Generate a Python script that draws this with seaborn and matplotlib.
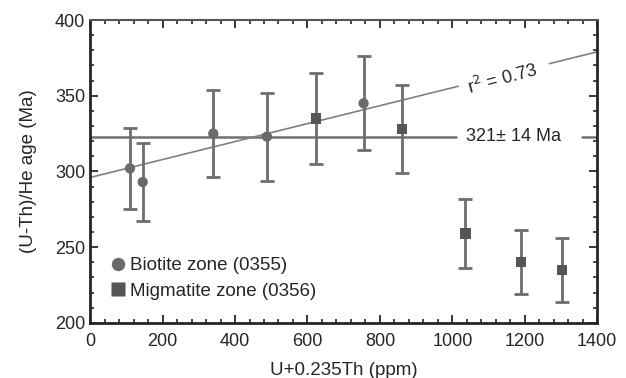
import numpy as np
import pandas as pd
import seaborn as sns
import matplotlib.pyplot as plt
from matplotlib.ticker import MultipleLocator

bio_x = [110, 145, 340, 488, 755]
bio_age = [302, 293, 325, 323, 345]
bio_err = [27, 26, 29, 29, 31]

mig_x = [624, 861, 1036, 1190, 1302]
mig_age = [335, 328, 259, 240, 235]
mig_err = [30, 29, 23, 21, 21]

mean_age = 323
fit_x = [0, 1400]
fit_y = [296, 379]

sns.set_style("ticks")
plt.rcParams['font.family'] = ['Liberation Sans', 'DejaVu Sans']

df = pd.DataFrame({
    'x': bio_x + mig_x,
    'age': bio_age + mig_age,
    'err': bio_err + mig_err,
    'zone': ['Biotite zone (0355)'] * 5 + ['Migmatite zone (0356)'] * 5,
})

fig = plt.figure(figsize=(6.26, 3.78), dpi=100)
ax = fig.add_axes([0.144, 0.146, 0.81, 0.801])

# weighted mean line with a gap for its label
ax.plot([0, 1010], [mean_age, mean_age], color='#707070', lw=1.8, zorder=1)
ax.plot([1358, 1400], [mean_age, mean_age], color='#707070', lw=1.8, zorder=1)
ax.text(1170, mean_age, '321\u00b1 14 Ma', ha='center', va='center', fontsize=13)

# regression line with a gap for r2
slope = (fit_y[1] - fit_y[0]) / (fit_x[1] - fit_x[0])
gx = [1016, 1268]
ax.plot([0, gx[0]], [fit_y[0], fit_y[0] + slope * gx[0]], color='#808080', lw=1.2, zorder=1)
ax.plot([gx[1], 1400], [fit_y[0] + slope * gx[1], fit_y[1]], color='#808080', lw=1.2, zorder=1)
ax.text(1138, fit_y[0] + slope * 1138 - 2.5, 'r$^2$ = 0.73', ha='center', va='center',
        rotation=15, rotation_mode='anchor', fontsize=13)

colors = {'Biotite zone (0355)': '#6a6a6a', 'Migmatite zone (0356)': '#555555'}
ax.errorbar(df['x'], df['age'], yerr=df['err'], fmt='none', ecolor='#6e6e6e',
            elinewidth=2.0, capsize=5, capthick=2.0, zorder=2)

sns.scatterplot(data=df, x='x', y='age', hue='zone', style='zone',
                markers={'Biotite zone (0355)': 'o', 'Migmatite zone (0356)': 's'},
                palette=colors, s=55, edgecolor='none', ax=ax, zorder=3)

ax.set_xlim(0, 1400)
ax.set_ylim(200, 400)
ax.xaxis.set_major_locator(MultipleLocator(200))
ax.xaxis.set_minor_locator(MultipleLocator(40))
ax.yaxis.set_major_locator(MultipleLocator(50))
ax.yaxis.set_minor_locator(MultipleLocator(10))
ax.tick_params(which='both', direction='in', top=True, right=True, labelsize=13)
ax.tick_params(axis='x', pad=7)
ax.tick_params(which='major', length=6, width=1.3)
ax.tick_params(which='minor', length=3, width=1.2)
for s in ax.spines.values():
    s.set_linewidth(2)
ax.spines['top'].set_color('#555555')
ax.spines['top'].set_linewidth(1.5)

ax.set_xlabel('U+0.235Th (ppm)', fontsize=13.5, labelpad=9)
ax.set_ylabel('(U-Th)/He age (Ma)', fontsize=13.5, labelpad=13)

ax.legend(loc='lower left', bbox_to_anchor=(0.0, 0.02), frameon=False, fontsize=13.5,
          handletextpad=0.0, handlelength=1.2, labelspacing=0.45, markerscale=1.3)

fig.savefig('out.png', dpi=100)
